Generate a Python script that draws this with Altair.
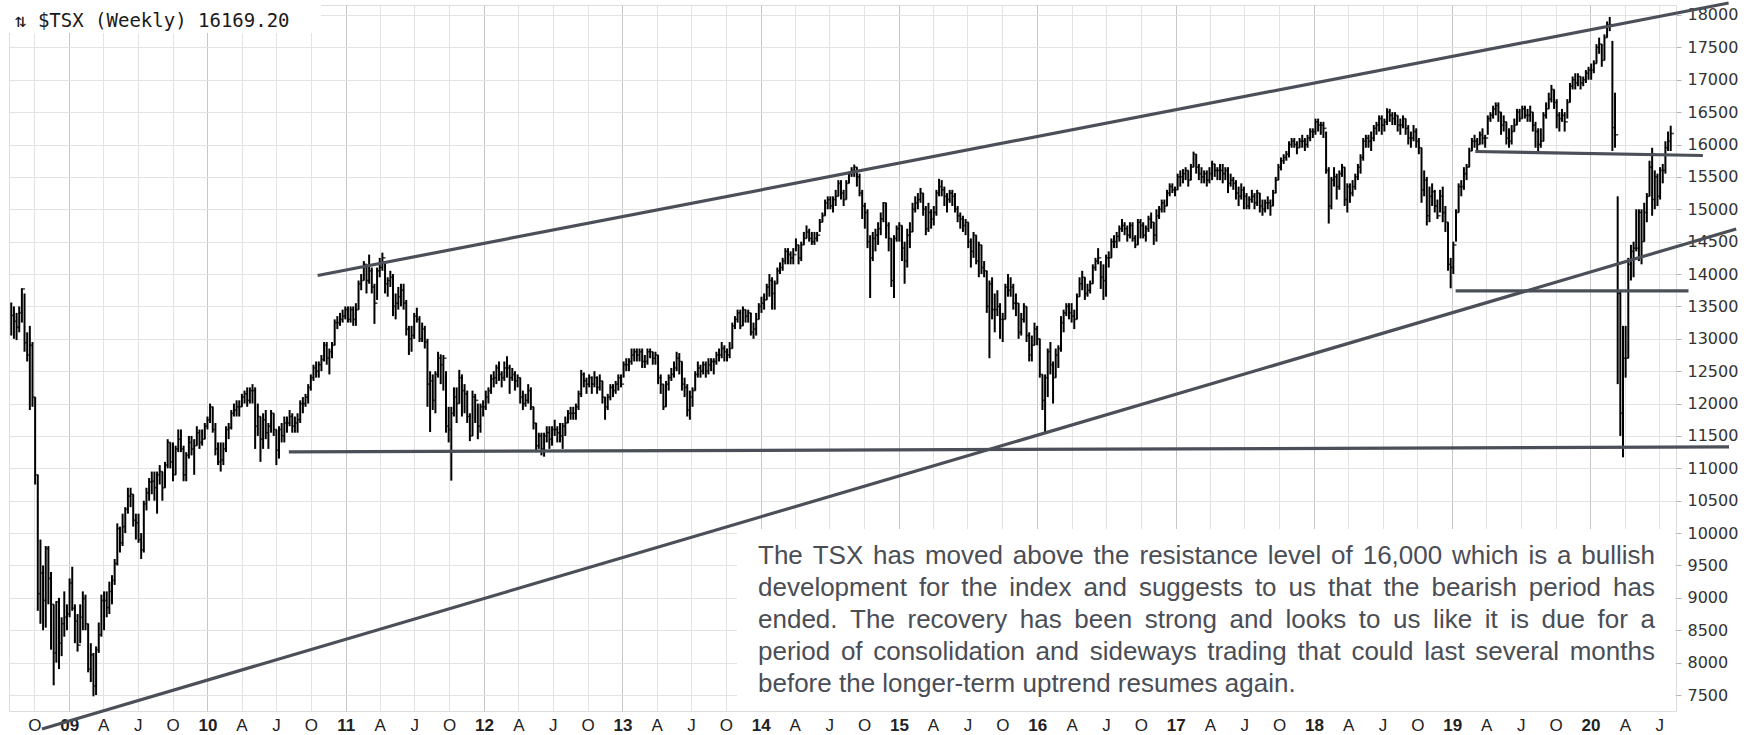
import altair as alt
import pandas as pd

# ---------------- weekly $TSX bars (week-ending Fridays) ----------------
start_2008, start_2009, start_2010, start_2011 = "2008-08-01", "2009-01-02", "2010-01-01", "2011-01-07"
start_2012, start_2013, start_2014, start_2015 = "2012-01-06", "2013-01-04", "2014-01-03", "2015-01-02"
start_2016, start_2017, start_2018, start_2019, start_2020 = "2016-01-01", "2017-01-06", "2018-01-05", "2019-01-04", "2020-01-03"

close_2008 = [13360,13270,13180,13400,13770,12940,12750,12900,12100,10900,9065,9385,8960,9760,9300,8900,8150,8940,8300,8600,8700,8750]
high_2008 = [13560,13500,13400,13500,13780,13700,13100,13200,12950,12100,10900,9900,9500,9800,9800,9400,8900,8950,9000,8700,9100,8900]
low_2008 = [13050,13000,12980,13100,13250,12800,12650,11900,11950,10750,8800,8600,8500,8540,8900,8200,7650,8000,7900,8100,8400,8500]

close_2009 = [9230,8840,8640,8270,8700,8990,8600,7900,8120,7640,8200,8430,8960,8960,8850,9100,9270,9530,10070,9850,10100,10370,10570,10600,10200,10160,9900,9740,10450,10620,10790,10800,10700,10900,10950,10700,11050,11400,11100,10900,11300,11450,11300,10900,11200,11400,11300,11350,11550,11400,11450,11650]
high_2009 = [9300,9480,8900,8750,8900,9100,9050,8600,8300,8150,8250,8620,9050,9100,9100,9250,9350,9600,10150,10100,10300,10400,10700,10700,10600,10300,10300,10000,10500,10700,10850,10950,10950,10950,11050,10950,11100,11450,11400,11400,11350,11600,11600,11350,11250,11500,11500,11450,11650,11600,11600,11700]
low_2009 = [8700,8800,8300,8170,8300,8500,8500,7850,7700,7480,7500,8150,8400,8500,8700,8750,8900,9200,9500,9700,9800,10000,10300,10400,10100,9900,9850,9600,9700,10350,10500,10600,10500,10300,10750,10500,10700,11000,11000,10800,10900,11250,11250,10800,10800,11150,11200,10900,11350,11300,11350,11450]

close_2010 = [11750,11950,11600,11300,11100,11130,11300,11600,11630,11850,11900,11950,11950,12100,12150,12050,12200,12200,11650,11800,11450,11750,11550,11650,11850,11600,11280,11600,11500,11700,11700,11800,11650,11700,11750,12000,12000,12100,12250,12400,12550,12500,12600,12680,12900,12700,12800,12900,13250,13250,13300,13350,13450]
high_2010 = [11800,12000,11950,11700,11400,11400,11400,11650,11700,11900,12000,12050,12050,12150,12200,12250,12250,12300,12250,12000,11800,11850,11900,11700,11900,11850,11600,11650,11700,11800,11800,11900,11850,11800,11850,12050,12100,12150,12300,12450,12600,12650,12650,12750,12950,12950,12850,12950,13300,13350,13400,13450,13500]
low_2010 = [11600,11700,11550,11200,11050,10950,11050,11250,11450,11600,11800,11800,11800,11950,12000,11950,12000,12000,11300,11500,11100,11300,11450,11300,11550,11500,11050,11150,11400,11400,11550,11650,11550,11550,11550,11700,11850,11950,12000,12200,12350,12400,12400,12500,12650,12600,12450,12700,12900,13150,13200,13250,13300]

close_2011 = [13300,13450,13300,13450,13850,13900,14150,13900,14050,13800,13550,14050,14100,14250,13850,13900,13950,13500,13550,13650,13750,13550,13150,13000,13050,13350,13300,13000,13150,12950,12300,12350,12050,12450,12700,12600,12700,11650,11600,11850,12100,12000,12400,12200,12150,11800,11500,12100,12050,11650,11950,11950]
high_2011 = [13500,13500,13500,13550,13900,14000,14200,14150,14300,14100,13850,14100,14250,14330,14200,13950,14050,14000,13700,13800,13850,13850,13600,13200,13200,13400,13480,13350,13250,13200,13000,12500,12450,12500,12800,12760,12750,12500,11950,11950,12250,12250,12520,12450,12300,12200,11850,12200,12150,12000,12000,12050]
low_2011 = [13250,13250,13200,13200,13450,13750,13900,13700,13850,13700,13230,13600,13950,14050,13700,13650,13800,13350,13300,13450,13500,13450,13050,12750,12800,13000,13250,12950,12950,12850,11950,11560,11900,11850,12400,12300,12200,11550,11400,10810,11800,11700,12000,11800,11850,11700,11420,11500,11700,11450,11550,11800]

close_2012 = [12100,12200,12380,12400,12550,12450,12400,12550,12550,12400,12450,12350,12400,12100,12000,12050,12200,11950,11700,11350,11500,11300,11500,11550,11450,11600,11600,11550,11500,11650,11700,11850,11850,11850,11950,12150,12450,12350,12300,12400,12300,12400,12250,12350,12100,11950,12100,12250,12200,12300,12400,12300]
high_2012 = [12200,12250,12450,12500,12600,12650,12500,12650,12730,12600,12550,12500,12450,12400,12200,12150,12300,12250,11950,11700,11550,11550,11550,11650,11650,11650,11750,11650,11700,11700,11800,11900,11950,11950,12000,12200,12520,12480,12400,12450,12420,12500,12420,12450,12350,12100,12150,12300,12300,12350,12450,12450]
low_2012 = [11900,12000,12150,12250,12300,12350,12250,12350,12400,12150,12350,12200,12250,12000,11900,11950,12000,11900,11600,11250,11300,11200,11180,11400,11300,11350,11500,11400,11400,11300,11500,11700,11750,11750,11750,11900,12100,12250,12150,12250,12150,12250,12150,12200,12000,11750,11900,12050,12100,12150,12200,12250]

close_2013 = [12600,12600,12650,12750,12800,12750,12800,12650,12650,12800,12800,12700,12750,12400,12300,11950,12300,12400,12450,12550,12700,12650,12300,12250,11900,12100,12200,12450,12550,12500,12600,12500,12600,12650,12650,12750,12750,12850,12800,12750,12850,13200,13300,13400,13200,13450,13350,13400,13100,13150,13300,13500]
high_2013 = [12650,12700,12700,12850,12850,12850,12850,12850,12750,12850,12850,12800,12800,12750,12450,12300,12350,12450,12550,12650,12800,12780,12650,12400,12300,12200,12250,12500,12650,12600,12650,12650,12700,12700,12700,12800,12850,12950,12900,12850,12950,13250,13350,13450,13450,13500,13450,13450,13400,13250,13400,13550]
low_2013 = [12400,12500,12500,12600,12650,12650,12650,12550,12550,12600,12700,12600,12600,12300,12150,11900,11950,12200,12350,12400,12500,12450,12200,12100,11800,11750,11950,12200,12400,12400,12450,12400,12450,12500,12450,12600,12650,12700,12650,12650,12700,12850,13150,13250,13150,13200,13250,13250,13050,13000,13050,13300]

close_2014 = [13550,13600,13800,13900,13700,13850,14050,14100,14200,14350,14300,14250,14300,14450,14250,14450,14550,14650,14550,14500,14550,14600,14800,14900,15100,15150,15050,15150,15200,15400,15250,15150,15400,15550,15600,15650,15500,15250,15050,14950,14500,14250,14550,14600,14700,14850,15100,14750,14550,13900,14550,14700]
high_2014 = [13650,13700,13850,14000,13950,13900,14100,14180,14250,14400,14400,14350,14400,14550,14450,14500,14650,14750,14700,14650,14650,14650,14850,14950,15150,15200,15200,15200,15300,15450,15450,15300,15450,15580,15650,15690,15650,15550,15300,15100,15000,14600,14650,14700,14800,14950,15110,15100,14800,14550,14600,14750]
low_2014 = [13400,13450,13600,13650,13450,13450,13850,14000,14050,14150,14150,14150,14150,14350,14150,14200,14450,14550,14500,14450,14450,14500,14650,14800,14900,15000,15000,14950,15050,15200,15150,15050,15150,15400,15500,15500,15350,15200,14850,14700,14400,13630,14200,14350,14450,14600,14800,14550,14350,13800,13630,14500]

close_2015 = [14750,14400,14200,14600,14650,15000,15100,15150,15250,15000,14700,14950,14850,14950,15250,15350,15300,15200,15150,15250,15200,15000,14900,14850,14750,14800,14500,14350,14600,14200,14450,14100,14050,13500,13850,13450,13450,13500,13300,13300,13800,13750,13800,13550,13550,13100,13300,13500,13050,12750,12900,13150]
high_2015 = [14800,14750,14500,14700,14800,15100,15200,15250,15330,15250,15050,15100,15000,15050,15300,15470,15450,15350,15250,15300,15300,15250,15050,14950,14900,14850,14800,14550,14650,14600,14500,14450,14200,14050,13900,13950,13700,13750,13550,13400,13850,14000,13950,13850,13700,13550,13400,13550,13500,13100,13050,13250]
low_2015 = [14500,14200,13850,14100,14400,14650,14950,15000,15100,14900,14600,14650,14700,14750,14900,15200,15200,15050,14950,15100,15050,14950,14800,14700,14650,14600,14400,14100,14250,14150,13950,14000,13950,13400,12700,13300,13100,13350,13000,12950,13300,13650,13650,13450,13350,13000,13050,13250,12950,12650,12650,12900]

close_2016 = [13000,12450,12050,12400,12800,12600,12400,12750,12850,13250,13400,13500,13400,13350,13300,13650,13850,13950,13700,13750,13850,14100,14200,14250,13950,13900,14250,14250,14500,14500,14580,14700,14750,14700,14600,14750,14550,14450,14800,14750,14600,14700,14850,14800,14600,14900,15000,15100,15050,15250,15350,15300,15300]
high_2016 = [13200,13000,12450,12450,12850,12950,12650,12850,12900,13350,13450,13550,13550,13550,13450,13700,13950,14050,13950,13850,13900,14150,14250,14400,14200,14150,14300,14350,14550,14600,14650,14750,14850,14800,14750,14800,14800,14600,14850,14850,14800,14750,14900,14950,14800,15000,15050,15150,15150,15300,15400,15400,15350]
low_2016 = [12900,12400,11900,11530,12100,12450,12000,12400,12550,12800,13100,13350,13300,13250,13150,13300,13650,13750,13600,13650,13700,13850,14050,14150,13770,13600,13650,14100,14250,14400,14400,14500,14650,14600,14500,14550,14500,14400,14450,14550,14550,14500,14650,14700,14450,14500,14850,14950,14950,15050,15200,15250,15200]

close_2017 = [15500,15500,15550,15600,15450,15650,15850,15650,15550,15500,15550,15450,15550,15700,15600,15600,15600,15550,15600,15400,15450,15400,15250,15200,15300,15200,15050,15150,15200,15100,15250,15050,15000,15100,15100,15050,15250,15450,15650,15750,15800,15850,16000,16050,16000,15950,16050,16050,16000,16100,16200,16200]
high_2017 = [15550,15600,15620,15650,15600,15700,15890,15850,15700,15650,15600,15600,15650,15750,15700,15650,15700,15700,15650,15650,15550,15500,15450,15350,15400,15350,15250,15200,15300,15250,15300,15250,15150,15150,15200,15150,15300,15500,15700,15800,15850,15900,16050,16100,16100,16050,16100,16150,16100,16150,16250,16250]
low_2017 = [15300,15350,15400,15450,15350,15450,15650,15550,15450,15400,15400,15350,15400,15450,15500,15450,15450,15400,15450,15250,15350,15300,15150,15050,15150,15000,15000,15000,15100,15000,15050,14950,14900,14950,15000,14900,15050,15250,15450,15600,15700,15750,15800,15950,15950,15850,15950,15950,15900,15950,16050,16100]

close_2018 = [16350,16300,16300,16250,15600,15050,15450,15500,15350,15550,15650,15150,15350,15250,15350,15500,15650,15800,16050,16100,16050,16100,16250,16300,16400,16300,16350,16500,16450,16400,16450,16300,16300,16400,16250,16100,16100,16200,16050,15950,15300,15450,14900,15200,15270,15050,14900,15200,14950,14800,14150,14100]
high_2018 = [16400,16400,16350,16350,16200,15650,15500,15650,15550,15600,15700,15650,15400,15400,15450,15550,15700,15850,16100,16150,16150,16200,16300,16350,16450,16450,16400,16560,16550,16500,16500,16450,16400,16450,16400,16300,16200,16300,16250,16100,15950,15600,15500,15350,15400,15300,15150,15300,15350,15050,14800,14250]
low_2018 = [16150,16200,16150,16100,15550,14780,15000,15350,15150,15300,15500,15050,14950,15100,15200,15300,15450,15550,15750,15950,15950,15900,16050,16150,16200,16150,16200,16300,16350,16300,16300,16200,16150,16250,16150,16000,15950,16050,15950,15850,15100,15200,14750,14800,15050,14950,14850,14950,14800,14650,14050,13780]

close_2019 = [14450,14950,15350,15350,15550,15650,15900,16050,16050,16000,16150,16100,16100,16400,16450,16550,16600,16500,16300,16350,16100,16050,16200,16300,16500,16400,16550,16450,16450,16500,16300,16200,16000,16050,16450,16550,16700,16850,16650,16450,16400,16450,16350,16650,16900,17000,16950,17050,16950,17000,17100,17150]
high_2019 = [14500,15000,15400,15450,15650,15700,15950,16100,16150,16100,16200,16250,16150,16450,16500,16600,16650,16650,16500,16450,16350,16250,16300,16400,16550,16550,16600,16600,16550,16600,16500,16350,16250,16250,16500,16650,16800,16920,16850,16700,16500,16550,16500,16700,16950,17050,17100,17100,17050,17050,17150,17200]
low_2019 = [14000,14500,14950,15200,15300,15450,15650,15900,15950,15900,16000,16000,15950,16150,16350,16400,16450,16350,16150,16200,16000,15950,16000,16200,16300,16350,16400,16400,16350,16350,16200,15950,15900,15950,16050,16400,16550,16650,16550,16250,16200,16350,16200,16400,16650,16850,16850,16900,16850,16900,16950,17000]

close_2020 = [17150,17250,17500,17550,17300,17650,17850,17850,16260,16150,13700,11850,12700,12700,14150,14350,14400,14400,14950,14500,14950,15200,15650,15150,15500,15200,15600,15600,15950,16050,16170]
high_2020 = [17250,17300,17550,17650,17550,17700,17900,17970,17600,16800,15200,13750,13200,13200,14250,14450,14500,15000,15000,15000,15100,15250,15750,15950,15600,15550,15650,15700,16050,16200,16290]
low_2020 = [17000,17100,17250,17400,17200,17300,17650,17750,15900,15950,12300,11500,11170,12400,12700,13900,13950,14350,14200,14150,14500,14800,15200,14900,15000,15050,15150,15400,15550,15900,15900]

# ---------------- drawn trendlines (date, level) ----------------
line_names = ["upper", "upper", "lower", "lower", "support", "support", "mid", "mid", "resist", "resist"]
line_dates = ["2010-10-19", "2020-12-31", "2008-10-21", "2021-01-20", "2010-08-04", "2021-01-01",
              "2019-01-10", "2020-09-16", "2019-03-03", "2020-10-24"]
line_levels = [13978, 18185, 6976, 14696, 11253, 11330, 13740, 13740, 15892, 15830]

y_ticks = list(range(7500, 18001, 500))
title_text = "\u21c5 $TSX (Weekly) 16169.20"
note_lines = [
    "The TSX has moved above the resistance level of 16,000 which is a bullish",
    "development for the index and suggests to us that the bearish period has",
    "ended. The recovery has been strong and looks to us like it is due for a",
    "period of consolidation and sideways trading that could last several months",
    "before the longer-term uptrend resumes again.",
]


def ms(d):
    return int(pd.Timestamp(d).value // 10**6)


years = [
    (start_2008, close_2008, high_2008, low_2008), (start_2009, close_2009, high_2009, low_2009),
    (start_2010, close_2010, high_2010, low_2010), (start_2011, close_2011, high_2011, low_2011),
    (start_2012, close_2012, high_2012, low_2012), (start_2013, close_2013, high_2013, low_2013),
    (start_2014, close_2014, high_2014, low_2014), (start_2015, close_2015, high_2015, low_2015),
    (start_2016, close_2016, high_2016, low_2016), (start_2017, close_2017, high_2017, low_2017),
    (start_2018, close_2018, high_2018, low_2018), (start_2019, close_2019, high_2019, low_2019),
    (start_2020, close_2020, high_2020, low_2020),
]
rows = []
for start, c, h, l in years:
    for d, cc, hh, ll in zip(pd.date_range(start, periods=len(c), freq="7D"), c, h, l):
        rows.append({"date": ms(d), "close": cc, "high": hh, "low": ll})
bars_df = pd.DataFrame(rows)

lines_df = pd.DataFrame({"name": line_names, "date": [ms(d) for d in line_dates], "level": line_levels})

quarters = [ms(d) for d in pd.date_range("2008-10-01", "2020-07-01", freq="QS")]

is_jan = "utcmonth(datum.value) == 0"
x_scale = alt.Scale(type="utc", domain=[ms("2008-07-26"), ms("2020-08-14")])
y_scale = alt.Scale(domain=[7253, 18154], nice=False, zero=False)
x_axis = alt.Axis(
    values=quarters, title=None, ticks=False, domain=False, labelOverlap=False, labelFlush=False,
    labelExpr=f"{is_jan} ? utcFormat(datum.value, '%y') : (utcmonth(datum.value) == 3 ? 'A' : (utcmonth(datum.value) == 6 ? 'J' : 'O'))",
    labelFont="Liberation Sans", labelFontSize=17, labelColor="#222222", labelPadding=6,
    labelFontWeight={"condition": {"test": is_jan, "value": "bold"}, "value": "normal"},
    grid=True, gridWidth=1,
    gridColor={"condition": {"test": is_jan, "value": "#c6c6c6"}, "value": "#e3e3e3"},
)
y_axis = alt.Axis(
    orient="right", values=y_ticks, title=None, format="d", domain=False, labelOverlap=False,
    labelFlush=False, tickSize=5, tickColor="#b5b5b5", labelPadding=6,
    labelFont="DejaVu Sans", labelFontSize=16, labelColor="#333333",
    grid=True, gridColor="#e3e3e3", gridWidth=1,
)


def X(field):
    return alt.X(field, type="temporal", scale=x_scale, axis=x_axis, title=None)


def Y(field):
    return alt.Y(field, type="quantitative", scale=y_scale, axis=y_axis, title=None)


one = pd.DataFrame({"k": [0]})

title_bg = alt.Chart(one).mark_rect(color="white").encode(
    x=alt.value(0), x2=alt.value(312), y=alt.value(0), y2=alt.value(28))

bars = alt.Chart(bars_df).mark_rule(color="#000000", strokeWidth=2.0).encode(
    x=X("date"), y=Y("low"), y2="high")
closes = alt.Chart(bars_df).mark_tick(orient="horizontal", size=3.5, thickness=1.6, xOffset=1.4,
                                      color="#000000").encode(x=X("date"), y=Y("close"))

trend = alt.Chart(lines_df).mark_line(color="#4b4f57", strokeWidth=3.2, clip=False).encode(
    x=X("date"), y=Y("level"), detail="name:N")

note_bg = alt.Chart(one).mark_rect(color="white").encode(
    x=alt.value(728), x2=alt.value(1666), y=alt.value(524), y2=alt.value(706))

# ---- justified annotation text (Arial / Liberation Sans advance widths, per 1000 em) ----
ADV = {" ": 278, ",": 278, ".": 278, "-": 333, "T": 611, "S": 667, "X": 667,
       "a": 556, "b": 556, "c": 500, "d": 556, "e": 556, "f": 278, "g": 556, "h": 556, "i": 222,
       "j": 222, "k": 500, "l": 222, "m": 833, "n": 556, "o": 556, "p": 556, "q": 556, "r": 333,
       "s": 500, "t": 278, "u": 556, "v": 500, "w": 722, "x": 500, "y": 500, "z": 500}
FS = 26
LEFT, RIGHT, BASE, LEAD = 749, 1646, 559, 32


def width(s):
    return sum(ADV.get(ch, 556) for ch in s) * FS / 1000.0


text_style = dict(align="left", baseline="alphabetic", font="Liberation Sans", fontSize=FS, color="#4a4d55")
note_layers = []
for i, txt in enumerate(note_lines):
    yb = BASE + LEAD * i
    if i == len(note_lines) - 1:
        note_layers.append(alt.Chart(one).mark_text(text=txt, **text_style).encode(
            x=alt.value(LEFT), y=alt.value(yb)))
        continue
    words = txt.split(" ")
    ws = [width(w) for w in words]
    gap = (RIGHT - LEFT - sum(ws)) / (len(words) - 1)
    xpos = LEFT
    for w, wd in zip(words, ws):
        note_layers.append(alt.Chart(one).mark_text(text=w, **text_style).encode(
            x=alt.value(round(xpos, 1)), y=alt.value(yb)))
        xpos += wd + gap

title_mark = alt.Chart(one).mark_text(text=title_text, align="left", baseline="alphabetic",
                                      font="DejaVu Sans Mono", fontSize=19, color="#1a1a1a").encode(
    x=alt.value(6), y=alt.value(22))

chart = alt.layer(title_bg, bars, closes, trend, note_bg, *note_layers, title_mark).properties(
    width=1667, height=706,
    autosize=alt.AutoSizeParams(type="none"),
    padding={"left": 9, "top": 5, "right": 83, "bottom": 24},
).configure_view(stroke="#c2c2c2", strokeWidth=1.5).configure(background="white")

chart.save("out.html", embed_options={"renderer": "svg", "actions": False})
